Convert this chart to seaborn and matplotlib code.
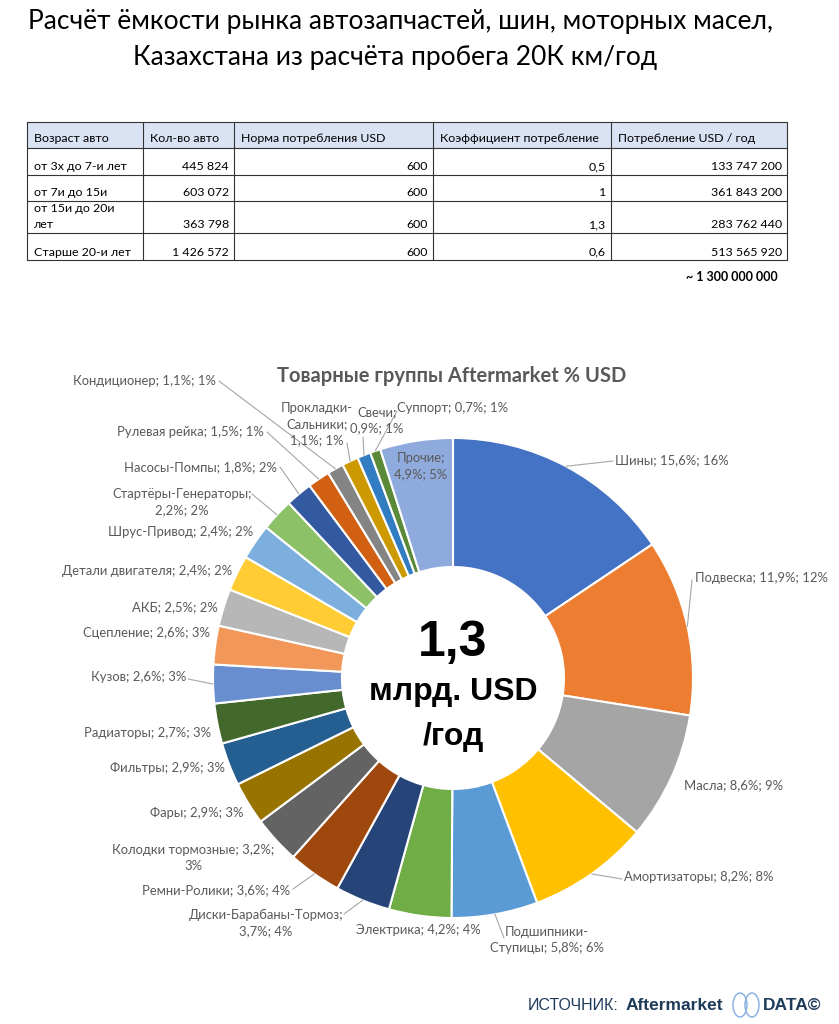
import math
import textwrap
import matplotlib
matplotlib.use("Agg")
import matplotlib.pyplot as plt
from matplotlib.patches import Rectangle, Ellipse
import seaborn as sns

# --- таблица ---
table_header = ["Возраст авто", "Кол-во авто", "Норма потребления USD",
                "Коэффициент потребление", "Потребление USD / год"]
ages = ["от 3х до 7-и лет", "от 7и до 15и", "от 15и до 20и\nлет", "Старше 20-и лет"]
cars = [445824, 603072, 363798, 1426572]
norm_usd = [600, 600, 600, 600]
coef = [0.5, 1, 1.3, 0.6]
usd_year = [133747200, 361843200, 283762440, 513565920]
total_text = "~ 1 300 000 000"

# --- товарные группы ---
groups = ["Шины", "Подвеска", "Масла", "Амортизаторы", "Подшипники-Ступицы",
          "Электрика", "Диски-Барабаны-Тормоз", "Ремни-Ролики", "Колодки тормозные",
          "Фары", "Фильтры", "Радиаторы", "Кузов", "Сцепление", "АКБ",
          "Детали двигателя", "Шрус-Привод", "Стартёры-Генераторы", "Насосы-Помпы",
          "Рулевая рейка", "Кондиционер", "Прокладки-Сальники", "Свечи", "Суппорт",
          "Прочие"]
shares = [15.6, 11.9, 8.6, 8.2, 5.8, 4.2, 3.7, 3.6, 3.2, 2.9, 2.9, 2.7, 2.6, 2.6,
          2.5, 2.4, 2.4, 2.2, 1.8, 1.5, 1.1, 1.1, 0.9, 0.7, 4.9]
shares_round = [16, 12, 9, 8, 6, 4, 4, 4, 3, 3, 3, 3, 3, 3, 2, 2, 2, 2, 2, 1, 1, 1,
                1, 1, 5]
colors = ["#4472C4", "#ED7D31", "#A5A5A5", "#FFC000", "#5B9BD5", "#70AD47",
          "#264478", "#9E480E", "#636363", "#997300", "#255E91", "#43682B",
          "#698ED0", "#F1975A", "#B7B7B7", "#FFCD33", "#7CAFDD", "#8CC168",
          "#335AA1", "#D26012", "#848484", "#CC9A00", "#327DC2", "#5A8A39",
          "#8FAADC"]

# позиции подписей (пиксели сверху): x, y, ha, ширина переноса, начало выноски
label_pos = [
    (615, 460, "left", 40, (613, 461)),
    (695, 578, "left", 40, (692, 580)),
    (684, 785, "left", 40, None),
    (624, 877, "left", 40, (622, 879)),
    (547, 940, "center", 17, (504, 938)),
    (418, 930, "center", 40, None),
    (266, 923, "center", 22, (344, 914)),
    (290, 890, "right", 40, (293, 889)),
    (193, 858, "center", 24, None),
    (244, 813, "right", 40, None),
    (225, 768, "right", 40, None),
    (211, 733, "right", 40, None),
    (186, 677, "right", 40, (188, 679)),
    (210, 633, "right", 40, None),
    (218, 607, "right", 40, None),
    (232, 571, "right", 40, None),
    (253, 532, "right", 40, None),
    (182, 502, "center", 20, (252, 494)),
    (277, 467, "right", 40, (280, 467)),
    (264, 432, "right", 40, (267, 432)),
    (216, 381, "right", 40, (219, 381)),
    (317, 424, "center", 10, (347, 443)),
    (377, 420, "center", 8, (363, 437)),
    (397, 408, "left", 40, (397, 411)),
    (421, 466, "center", 8, None),
]

W, H = 839, 1024
CX, CY, R, RIN = 453, 678, 240, 111

sns.set_theme(style="white")
plt.rcParams["font.family"] = ["Lato", "DejaVu Sans"]

fig = plt.figure(figsize=(W / 100, H / 100), dpi=100)
ax = fig.add_axes([0, 0, 1, 1])

# заголовок
ax.text(400, H - 22, "Расчёт ёмкости рынка автозапчастей, шин, моторных масел,",
        ha="center", va="center", fontsize=19, color="black")
ax.text(395, H - 57, "Казахстана из расчёта пробега 20К км/год",
        ha="center", va="center", fontsize=19, color="black")

# таблица
col_x = [27, 143, 234, 433, 611, 787]
row_y = [122, 148, 175, 201, 233, 260]
ax.add_patch(Rectangle((col_x[0], H - row_y[1]), col_x[-1] - col_x[0],
                       row_y[1] - row_y[0], facecolor="#DAE3F3", edgecolor="none"))
for yy in row_y:
    ax.plot([col_x[0], col_x[-1]], [H - yy, H - yy], color="#333333", lw=0.8)
for xx in col_x:
    ax.plot([xx, xx], [H - row_y[0], H - row_y[-1]], color="#333333", lw=0.8)

tfont = dict(fontsize=8.9, color="black", va="center")
for j, h in enumerate(table_header):
    ax.text(col_x[j] + 7, H - (row_y[1] - 9), h, ha="left", **tfont)


def fmt_int(v):
    return f"{v:,}".replace(",", " ")


for i in range(len(ages)):
    yb = H - (row_y[i + 2] - 8)
    age_lines = ages[i].split("\n")
    for n, line in enumerate(reversed(age_lines)):
        ax.text(col_x[0] + 7, yb + 17 * n, line, ha="left", **tfont)
    cells = [fmt_int(cars[i]), str(norm_usd[i]), str(coef[i]).replace(".", ","),
             fmt_int(usd_year[i])]
    for j, c in enumerate(cells):
        ax.text(col_x[j + 2] - 5, yb, c, ha="right", **tfont)

ax.text(778, H - 277, total_text, ha="right", va="center", fontsize=9,
        fontweight="bold", color="black")

# кольцевая диаграмма
ax.pie(shares, colors=colors, startangle=90, counterclock=False,
       center=(CX, H - CY), radius=R,
       wedgeprops=dict(width=R - RIN, edgecolor="white", linewidth=1.5))

ax.text(452, H - 376, "Товарные группы Aftermarket % USD", ha="center",
        va="center", fontsize=14.5, fontweight="bold", color="#595959")

total = sum(shares)
cum = 0
for k, (name, s, sr) in enumerate(zip(groups, shares, shares_round)):
    mid = cum + s / 2
    cum += s
    a = math.radians(90 - 360 * mid / total)
    px, py = CX + R * math.cos(a), (H - CY) + R * math.sin(a)
    lab = f"{name}; {s:.1f}%; {sr}%".replace(".", ",")
    x, y, ha, wrap, lead = label_pos[k]
    lab = "\n".join(textwrap.wrap(lab, wrap, break_long_words=False))
    ax.text(x, H - y, lab, ha=ha, va="center", multialignment=ha,
            linespacing=1.42, fontsize=9.4, color="#595959")
    if lead is not None:
        ax.plot([lead[0], px], [H - lead[1], py], color="#A6A6A6", lw=0.8)

# центр
ax.text(CX, H - 643, "1,3", ha="center", va="center", fontsize=36,
        fontweight="bold", family="Liberation Sans", color="black")
ax.text(CX, H - 692, "млрд. USD", ha="center", va="center", fontsize=23,
        fontweight="bold", family="Liberation Sans", color="black")
ax.text(CX, H - 737, "/год", ha="center", va="center", fontsize=23,
        fontweight="bold", family="Liberation Sans", color="black")

# источник
navy = "#1F3B5A"
ax.text(528, H - 1005, "ИСТОЧНИК:", ha="left", va="center", fontsize=11.5,
        family="Liberation Sans", color=navy)
ax.text(626, H - 1005, "Aftermarket", ha="left", va="center", fontsize=12.5,
        fontweight="bold", family="Liberation Sans", color=navy)
for dx in (-6, 6):
    ax.add_patch(Ellipse((746 + dx, H - 1005), 14, 24, facecolor="none",
                         edgecolor="#8DB3E2", lw=1.1))
ax.text(763, H - 1005, "DATA©", ha="left", va="center", fontsize=12.5,
        fontweight="bold", family="Liberation Sans", color=navy)

ax.set_xlim(0, W)
ax.set_ylim(0, H)
ax.set_aspect("auto")
ax.axis("off")
fig.savefig("out.png", dpi=100)
